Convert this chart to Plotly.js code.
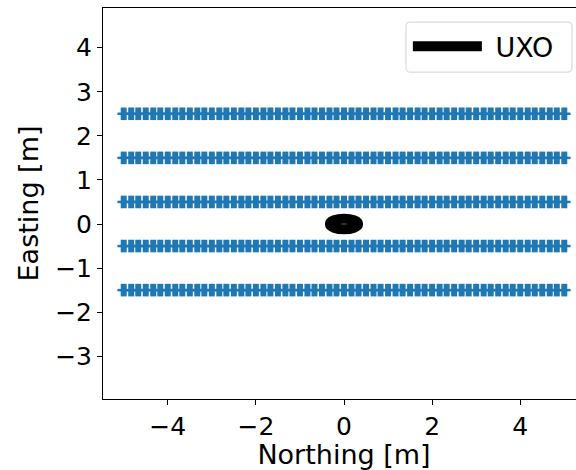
<!DOCTYPE html>
<html>
<head>
<meta charset="utf-8">
<script src="https://cdn.plot.ly/plotly-3.0.1.min.js"></script>
<style>
  html, body { margin: 0; padding: 0; overflow: hidden; background: #fff; }
  #chart { width: 590px; height: 470px; }
</style>
</head>
<body>
<div id="chart"></div>
<script>
// Survey line positions (Easting, m)
const lineEasting = [2.5, 1.5, 0.5, -0.5, -1.5];

// Sample positions along each survey line (Northing, m)
const sampleNorthing = [
  -5.00, -4.83, -4.67, -4.50, -4.33, -4.17, -4.00, -3.83, -3.67, -3.50,
  -3.33, -3.17, -3.00, -2.83, -2.67, -2.50, -2.33, -2.17, -2.00, -1.83,
  -1.67, -1.50, -1.33, -1.17, -1.00, -0.83, -0.67, -0.50, -0.33, -0.17,
   0.00,  0.17,  0.33,  0.50,  0.67,  0.83,  1.00,  1.17,  1.33,  1.50,
   1.67,  1.83,  2.00,  2.17,  2.33,  2.50,  2.67,  2.83,  3.00,  3.17,
   3.33,  3.50,  3.67,  3.83,  4.00,  4.17,  4.33,  4.50,  4.67,  4.83,
   5.00
];

// UXO footprint: centre (Northing, Easting) and semi-axes (m)
const uxoCentre = [0, 0];
const uxoSemiAxes = [0.32, 0.12];

const xTicks = [-4, -2, 0, 2, 4];
const yTicks = [-3, -2, -1, 0, 1, 2, 3, 4];

const blue = '#1f77b4';
const traces = [];

lineEasting.forEach(function (e) {
  const ys = sampleNorthing.map(function () { return e; });
  // horizontal arm of each "+" sample marker
  traces.push({
    x: sampleNorthing, y: ys, type: 'scatter', mode: 'markers',
    showlegend: false, hoverinfo: 'skip',
    marker: { symbol: 'line-ew-open', size: 9, color: blue, line: { color: blue, width: 2.5 } }
  });
  // vertical arm of each "+" sample marker
  traces.push({
    x: sampleNorthing, y: ys, type: 'scatter', mode: 'markers',
    showlegend: false, hoverinfo: 'skip',
    marker: { symbol: 'line-ns-open', size: 9, color: blue, line: { color: blue, width: 6 } }
  });
});

// Legend entry for the UXO outline
traces.push({
  x: [uxoCentre[0]], y: [uxoCentre[1]], type: 'scatter', mode: 'lines',
  name: '\u00a0UXO', line: { color: '#000', width: 10 }, hoverinfo: 'skip'
});

const tickFont = { family: 'DejaVu Sans, sans-serif', size: 25, color: '#000' };
const titleFont = { family: 'DejaVu Sans, sans-serif', size: 27, color: '#000' };

// Legend frame with rounded corners (plot-area fractions)
const box = { x0: 0.6286, x1: 0.973, y0: 0.836, y1: 0.964, rx: 0.009, ry: 0.011 };
const framePath =
  'M' + (box.x0 + box.rx) + ',' + box.y0 +
  ' L' + (box.x1 - box.rx) + ',' + box.y0 +
  ' Q' + box.x1 + ',' + box.y0 + ' ' + box.x1 + ',' + (box.y0 + box.ry) +
  ' L' + box.x1 + ',' + (box.y1 - box.ry) +
  ' Q' + box.x1 + ',' + box.y1 + ' ' + (box.x1 - box.rx) + ',' + box.y1 +
  ' L' + (box.x0 + box.rx) + ',' + box.y1 +
  ' Q' + box.x0 + ',' + box.y1 + ' ' + box.x0 + ',' + (box.y1 - box.ry) +
  ' L' + box.x0 + ',' + (box.y0 + box.ry) +
  ' Q' + box.x0 + ',' + box.y0 + ' ' + (box.x0 + box.rx) + ',' + box.y0 + ' Z';

const layout = {
  width: 590, height: 470,
  margin: { l: 103, r: 5, t: 8, b: 71 },
  paper_bgcolor: '#fff', plot_bgcolor: '#fff',
  font: tickFont,
  showlegend: true,
  legend: {
    x: 0.6325, y: 0.964, xanchor: 'left', yanchor: 'top',
    bgcolor: 'rgba(0,0,0,0)', borderwidth: 0,
    font: { family: 'DejaVu Sans, sans-serif', size: 27, color: '#000' },
    itemwidth: 69
  },
  xaxis: {
    range: [-5.47, 5.47], tickvals: xTicks, ticks: 'outside', ticklen: 5,
    tickcolor: '#000', showline: true, mirror: true, linecolor: '#000', linewidth: 1,
    showgrid: false, zeroline: false, tickfont: tickFont,
    title: { text: 'Northing [m]', font: titleFont, standoff: 5 }
  },
  yaxis: {
    range: [-3.97, 4.9], tickvals: yTicks, ticks: 'outside', ticklen: 5,
    tickcolor: '#000', showline: true, mirror: true, linecolor: '#000', linewidth: 1,
    showgrid: false, zeroline: false, tickfont: tickFont,
    title: { text: 'Easting [m]', font: titleFont, standoff: 8 }
  },
  shapes: [
    {
      type: 'circle', xref: 'x', yref: 'y',
      x0: uxoCentre[0] - uxoSemiAxes[0], x1: uxoCentre[0] + uxoSemiAxes[0],
      y0: uxoCentre[1] - uxoSemiAxes[1], y1: uxoCentre[1] + uxoSemiAxes[1],
      line: { color: '#000', width: 10 }
    },
    {
      type: 'path', xref: 'paper', yref: 'paper', path: framePath,
      fillcolor: 'rgba(255,255,255,0.8)', line: { color: '#d0d0d0', width: 1 }
    }
  ]
};

Plotly.newPlot('chart', traces, layout, { displayModeBar: false, staticPlot: true });
</script>
</body>
</html>
